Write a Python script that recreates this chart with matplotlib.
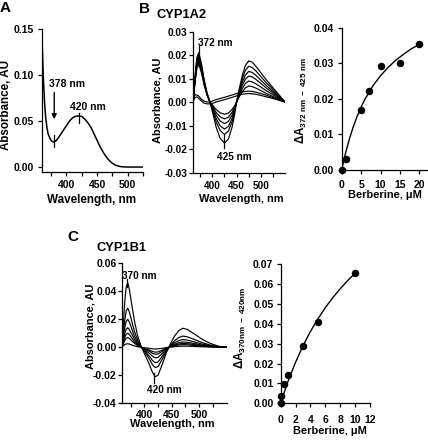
import numpy as np
import matplotlib
matplotlib.use("Agg")
import matplotlib.pyplot as plt
from matplotlib.ticker import FormatStrFormatter

plt.rcParams['font.family'] = ['Liberation Sans', 'DejaVu Sans']
plt.rcParams['font.weight'] = 'bold'
plt.rcParams['axes.labelweight'] = 'bold'
plt.rcParams['mathtext.fontset'] = 'custom'
plt.rcParams['mathtext.rm'] = 'Liberation Sans:bold'
plt.rcParams['mathtext.it'] = 'Liberation Sans:bold'
plt.rcParams['mathtext.bf'] = 'Liberation Sans:bold'
plt.rcParams['axes.linewidth'] = 0.9

# ---- panel A : absolute spectrum of berberine
a_wl = [360, 362, 364, 366, 368, 370, 373, 376, 379, 382, 386, 390, 395, 400, 405,
        410, 415, 420, 425, 430, 435, 440, 445, 450, 455, 460, 465, 470, 475, 480,
        485, 490, 500, 510, 525]
a_abs = [0.140, 0.100, 0.072, 0.054, 0.043, 0.036, 0.031, 0.028, 0.027, 0.028, 0.031,
         0.035, 0.040, 0.045, 0.050, 0.0535, 0.0552, 0.0555, 0.055, 0.052, 0.048,
         0.043, 0.036, 0.029, 0.022, 0.016, 0.011, 0.007, 0.004, 0.002, 0.001,
         0.0003, 0.0, 0.0, 0.0]

# ---- panel B : CYP1A2 difference spectra
b_wl = [360, 364, 368, 372, 377, 383, 389, 395, 401, 408, 416, 425, 433, 441, 446,
        450, 456, 462, 468, 475, 482, 490, 510, 530, 550]
b_spectra = [
    [-0.002, 0.0105, 0.019, 0.021, 0.0168, 0.0095, 0.0038, 0.0, -0.0049, -0.0109, -0.0154,
     -0.0175, -0.0158, -0.0105, -0.0053, 0.0, 0.0061, 0.0114, 0.0154, 0.0175, 0.0170,
     0.0152, 0.0098, 0.0049, 0.0],
    [-0.002, 0.010, 0.018, 0.020, 0.016, 0.009, 0.0036, 0.0, -0.0039, -0.0086, -0.0121,
     -0.0138, -0.0124, -0.0083, -0.0041, 0.0, 0.0053, 0.0099, 0.0134, 0.0152, 0.0147,
     0.0132, 0.0085, 0.0043, 0.0],
    [-0.0015, 0.0095, 0.0171, 0.019, 0.0152, 0.0086, 0.0034, 0.0, -0.0032, -0.0071, -0.0101,
     -0.0115, -0.0104, -0.0069, -0.0035, 0.0, 0.0046, 0.0085, 0.0114, 0.013, 0.0126,
     0.0113, 0.0073, 0.0036, 0.0],
    [-0.001, 0.009, 0.0162, 0.018, 0.0144, 0.0081, 0.0032, 0.0, -0.0026, -0.0057, -0.0081,
     -0.0092, -0.0083, -0.0055, -0.0028, 0.0, 0.0039, 0.0072, 0.0097, 0.011, 0.0107,
     0.0096, 0.0062, 0.0031, 0.0],
    [-0.001, 0.0085, 0.0153, 0.017, 0.0136, 0.0077, 0.0031, 0.0, -0.002, -0.0045, -0.0063,
     -0.0072, -0.0065, -0.0043, -0.0022, 0.0, 0.0031, 0.0058, 0.0078, 0.0089, 0.0086,
     0.0077, 0.005, 0.0025, 0.0],
    [0.0, 0.008, 0.0144, 0.016, 0.0128, 0.0072, 0.0029, 0.0, -0.0015, -0.0032, -0.0046,
     -0.0052, -0.0047, -0.0031, -0.0016, 0.0, 0.0024, 0.0044, 0.006, 0.0068, 0.0066,
     0.0059, 0.0038, 0.0019, 0.0],
    [0.001, 0.003, 0.003, 0.0025, 0.0012, 0.0004, 0.0, 0.0, 0.0005, 0.001, 0.0015,
     0.002, 0.0025, 0.003, 0.0033, 0.0036, 0.004, 0.0043, 0.0045, 0.0046, 0.0045,
     0.0042, 0.003, 0.0015, 0.0],
    [0.0, 0.0018, 0.0022, 0.0015, 0.0005, -0.0005, -0.0008, -0.0008, -0.0005, 0.0, 0.0005,
     0.001, 0.0015, 0.002, 0.0023, 0.0026, 0.003, 0.0033, 0.0035, 0.0036, 0.0035,
     0.0033, 0.0023, 0.0012, 0.0],
]
b_conc = [0, 1, 5, 7, 10, 15, 20]
b_dA = [0.0, 0.0031, 0.0168, 0.0222, 0.0293, 0.0300, 0.0354]
b_fit_conc = [0, 0.5, 1, 2, 3, 4, 5, 6, 7, 8, 10, 12, 14, 16, 18, 20]
b_fit_dA = [0.0, 0.0025, 0.0048, 0.0088, 0.0122, 0.0151, 0.0177, 0.0199, 0.0218,
            0.0236, 0.0265, 0.0289, 0.0309, 0.0326, 0.0341, 0.0353]

# ---- panel C : CYP1B1 difference spectra
c_wl = [360, 364, 367, 370, 373, 377, 382, 388, 395, 402, 410, 415, 420, 425, 432,
        440, 447, 455, 463, 470, 478, 490, 505, 520, 535, 550]
c_spectra = [
    [0.004, 0.030, 0.043, 0.046, 0.041, 0.031, 0.019, 0.008, 0.0, -0.006, -0.013, -0.018,
     -0.021, -0.020, -0.013, -0.004, 0.002, 0.008, 0.012, 0.0136, 0.0128, 0.0098, 0.0058,
     0.0028, 0.0008, 0.0],
    [0.003, 0.018, 0.026, 0.028, 0.025, 0.019, 0.0115, 0.005, 0.0, -0.004, -0.009, -0.0125,
     -0.0145, -0.0138, -0.009, -0.003, 0.001, 0.0047, 0.007, 0.008, 0.0075, 0.0058, 0.0034,
     0.0016, 0.0005, 0.0],
    [0.002, 0.013, 0.0185, 0.020, 0.018, 0.0135, 0.008, 0.0035, 0.0, -0.003, -0.0068, -0.0095,
     -0.011, -0.0105, -0.0068, -0.002, 0.001, 0.0032, 0.0048, 0.0055, 0.0052, 0.004, 0.0023,
     0.0011, 0.0003, 0.0],
    [0.0015, 0.009, 0.013, 0.014, 0.0125, 0.0095, 0.0058, 0.0025, 0.0, -0.002, -0.0046, -0.0064,
     -0.0075, -0.0072, -0.0047, -0.0014, 0.0007, 0.0022, 0.0033, 0.0038, 0.0036, 0.0028, 0.0016,
     0.0008, 0.0002, 0.0],
    [0.001, 0.0065, 0.0093, 0.010, 0.009, 0.0068, 0.0041, 0.0018, 0.0, -0.0014, -0.003, -0.0043,
     -0.005, -0.0048, -0.0031, -0.0009, 0.0005, 0.0016, 0.0024, 0.0027, 0.0026, 0.002, 0.0012,
     0.0006, 0.0002, 0.0],
    [0.0008, 0.0045, 0.0065, 0.007, 0.0063, 0.0047, 0.0029, 0.0012, 0.0, -0.001, -0.0021, -0.003,
     -0.0035, -0.0033, -0.0022, -0.0006, 0.0003, 0.0011, 0.0017, 0.0019, 0.0018, 0.0014, 0.0008,
     0.0004, 0.0001, 0.0],
    [0.0005, 0.0018, 0.0024, 0.0025, 0.0023, 0.0017, 0.001, 0.0004, 0.0, -0.0004, -0.0008, -0.0011,
     -0.0012, -0.0011, -0.0008, -0.0002, 0.0001, 0.0004, 0.0007, 0.0008, 0.0008, 0.0006, 0.0004,
     0.0002, 0.0001, 0.0],
]
c_conc = [0, 0.1, 0.5, 1, 3, 5, 10]
c_dA = [0.0, 0.0036, 0.0095, 0.0143, 0.0288, 0.0410, 0.0655]
c_fit_conc = [0, 0.5, 1, 2, 3, 4, 5, 6, 7, 8, 9, 10]
c_fit_dA = [0.0, 0.0058, 0.0112, 0.0207, 0.0290, 0.0362, 0.0425, 0.0482, 0.0532,
            0.0577, 0.0618, 0.0655]

wl_ticks = [375, 400, 425, 450, 475, 500, 525]
wl_ticklabels = ['', '400', '', '450', '', '500', '']

W, H = 428, 440
fig = plt.figure(figsize=(W / 100, H / 100), dpi=100)


def px_axes(left, top, right, bottom):
    return fig.add_axes([left / W, 1 - bottom / H, (right - left) / W, (bottom - top) / H])


def style(ax, fs, xpad, ypad):
    for s in ['top', 'right']:
        ax.spines[s].set_visible(False)
    ax.tick_params(direction='out', length=3.2, width=0.9, labelsize=fs)
    ax.tick_params(axis='x', pad=xpad)
    ax.tick_params(axis='y', pad=ypad)


# A
ax1 = px_axes(42, 29, 143, 172)
ax1.plot(a_wl, a_abs, color='black', lw=1.1)
ax1.set_xlim(360, 525)
ax1.set_ylim(-0.0054, 0.15)
ax1.set_yticks([0.0, 0.05, 0.10, 0.15])
ax1.yaxis.set_major_formatter(FormatStrFormatter('%.2f'))
ax1.set_xticks(wl_ticks)
ax1.set_xticklabels(wl_ticklabels)
style(ax1, 7.5, 2.4, 2.4)
ax1.set_xlabel('Wavelength, nm', fontsize=8.4)
ax1.set_ylabel('Absorbance, AU', fontsize=8.4)
ax1.xaxis.set_label_coords(0.495, -0.155)
ax1.yaxis.set_label_coords(-0.301, 0.469)
ax1.annotate('', xy=(380, 0.049), xytext=(380, 0.084),
             arrowprops=dict(arrowstyle='-|>', color='black', lw=1.0, mutation_scale=7))
ax1.text(401, 0.090, '378 nm', ha='center', va='center', fontsize=7.5)
ax1.plot([380, 380], [0.022, 0.035], color='black', lw=0.9)
ax1.text(435, 0.065, '420 nm', ha='center', va='center', fontsize=7.5)
ax1.plot([421, 421], [0.0475, 0.0584], color='black', lw=0.9)

# B left
ax2 = px_axes(193, 31.5, 285, 172.5)
for sp in b_spectra:
    ax2.plot(b_wl, sp, color='black', lw=0.85)
ax2.set_xlim(360, 550)
ax2.set_ylim(-0.03, 0.03)
ax2.set_yticks([-0.03, -0.02, -0.01, 0.0, 0.01, 0.02, 0.03])
ax2.yaxis.set_major_formatter(FormatStrFormatter('%.2f'))
ax2.set_xticks(wl_ticks)
ax2.set_xticklabels(wl_ticklabels)
style(ax2, 7.2, 3.2, 1.0)
ax2.set_xlabel('Wavelength, nm', fontsize=7.9)
ax2.set_ylabel('Absorbance, AU', fontsize=7.9)
ax2.xaxis.set_label_coords(0.52, -0.15)
ax2.yaxis.set_label_coords(-0.327, 0.514)
ax2.plot([372, 372], [0.0193, 0.0238], color='black', lw=0.9)
ax2.text(405, 0.0251, '372 nm', ha='center', va='center', fontsize=7.2)
ax2.plot([425, 425], [-0.0135, -0.0196], color='black', lw=0.9)
ax2.text(445, -0.0232, '425 nm', ha='center', va='center', fontsize=7.2)

# B right
ax3 = px_axes(341.7, 27.7, 429, 170)
ax3.plot(b_fit_conc, b_fit_dA, color='black', lw=1.0)
ax3.plot(b_conc, b_dA, 'o', color='black', ms=4.4, clip_on=False)
ax3.set_xlim(0, 22.5)
ax3.set_ylim(0, 0.04)
ax3.set_xticks([0, 5, 10, 15, 20])
ax3.set_yticks([0.0, 0.01, 0.02, 0.03, 0.04])
ax3.yaxis.set_major_formatter(FormatStrFormatter('%.2f'))
style(ax3, 7.5, 4.3, 2.4)
ax3.set_xlabel('Berberine, μM', fontsize=7.9)
ax3.set_ylabel(r'ΔA$_{\mathrm{372\ nm\ -\ 425\ nm}}$', fontsize=8.4)
ax3.xaxis.set_label_coords(0.496, -0.141)
ax3.yaxis.set_label_coords(-0.375, 0.49)

# C left
ax4 = px_axes(122.3, 263.3, 226.7, 403.3)
for sp in c_spectra:
    ax4.plot(c_wl, sp, color='black', lw=0.85)
ax4.set_xlim(360, 550)
ax4.set_ylim(-0.04, 0.06)
ax4.set_yticks([-0.04, -0.02, 0.0, 0.02, 0.04, 0.06])
ax4.yaxis.set_major_formatter(FormatStrFormatter('%.2f'))
ax4.set_xticks(wl_ticks)
ax4.set_xticklabels(wl_ticklabels)
style(ax4, 7.5, 1.7, 1.0)
ax4.set_xlabel('Wavelength, nm', fontsize=7.9)
ax4.set_ylabel('Absorbance, AU', fontsize=7.9)
ax4.xaxis.set_label_coords(0.481, -0.115)
ax4.yaxis.set_label_coords(-0.26, 0.547)
ax4.plot([369, 369], [0.043, 0.049], color='black', lw=0.9)
ax4.text(390, 0.0511, '370 nm', ha='center', va='center', fontsize=7.2)
ax4.plot([418, 418], [-0.0186, -0.0257], color='black', lw=0.9)
ax4.text(436, -0.0305, '420 nm', ha='center', va='center', fontsize=7.2)

# C right
ax5 = px_axes(280.7, 264.3, 370, 403.3)
ax5.plot(c_fit_conc, c_fit_dA, color='black', lw=1.0)
ax5.plot(c_conc, c_dA, 'o', color='black', ms=4.4, clip_on=False)
ax5.set_xlim(0, 12)
ax5.set_ylim(0, 0.07)
ax5.set_xticks([0, 2, 4, 6, 8, 10, 12])
ax5.set_yticks([0.0, 0.01, 0.02, 0.03, 0.04, 0.05, 0.06, 0.07])
ax5.yaxis.set_major_formatter(FormatStrFormatter('%.2f'))
style(ax5, 7.5, 5.3, 2.0)
ax5.set_xlabel('Berberine, μM', fontsize=7.9)
ax5.set_ylabel(r'ΔA$_{\mathrm{370nm\ -\ 420nm}}$', fontsize=8.4)
ax5.xaxis.set_label_coords(0.552, -0.163)
ax5.yaxis.set_label_coords(-0.37, 0.542)

# panel letters and titles
fig.text(5 / W, 1 - 8 / H, 'A', ha='center', va='center', fontsize=11)
fig.text(145 / W, 1 - 9 / H, 'B', ha='center', va='center', fontsize=11)
fig.text(73 / W, 1 - 237 / H, 'C', ha='center', va='center', fontsize=11)
fig.text(182 / W, 1 - 15 / H, 'CYP1A2', ha='center', va='center', fontsize=9.3)
fig.text(121.7 / W, 1 - 248 / H, 'CYP1B1', ha='center', va='center', fontsize=9.3)

fig.savefig('out.png', dpi=100)
